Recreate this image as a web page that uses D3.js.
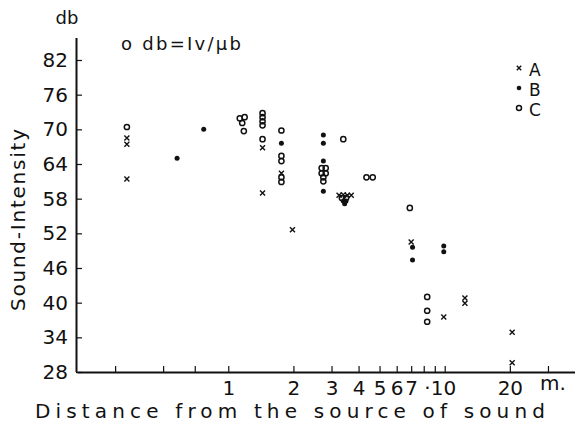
<!DOCTYPE html>
<html>
<head>
<meta charset="utf-8">
<script src="https://cdn.jsdelivr.net/npm/d3@7"></script>
<style>
  body { margin: 0; background: #fff; }
  svg text { font-family: 'DejaVu Sans', sans-serif; fill: #111; }
  .axis path, .axis line { stroke: #111; }
</style>
</head>
<body>
<div id="chart"></div>
<script>
// distance (m) , sound intensity (db)
var seriesA = [[0.34,68.5],[0.34,67.4],[0.34,61.4],[1.44,66.8],[1.44,59.0],[1.76,62.4],
  [1.98,52.6],[3.25,58.6],[3.4,58.7],[3.55,58.6],[3.7,58.6],[7.0,50.5],[9.9,37.5],
  [12.4,40.8],[12.4,39.9],[20.5,34.9],[20.5,29.6]]
var seriesB = [[0.58,65.0],[0.77,70.0],[1.76,67.6],[2.75,69.0],[2.75,67.6],[2.75,64.5],
  [2.75,59.3],[3.4,57.6],[3.5,57.6],[3.45,57.1],[7.1,49.6],[7.1,47.4],[9.9,49.8],[9.9,48.8]]
var seriesC = [[0.34,70.4],[1.13,71.9],[1.19,72.1],[1.16,71.1],[1.18,69.7],[1.44,72.8],
  [1.44,72.1],[1.44,71.4],[1.44,70.7],[1.44,68.3],[1.76,69.8],[1.76,65.4],[1.76,64.5],
  [1.76,61.7],[1.76,60.9],[2.7,63.3],[2.82,63.3],[2.7,62.4],[2.82,62.4],[2.75,61.7],
  [2.75,61.0],[3.4,68.3],[3.35,58.1],[3.5,58.1],[4.35,61.7],[4.65,61.7],[6.9,56.4],
  [8.3,41.0],[8.3,38.6],[8.3,36.7]]

var xTicks = [0.3,0.5,0.7,1,2,3,4,5,6,7,8,9,10,20,30]
var xLabels = {1:'1',2:'2',3:'3',4:'4',5:'5',6:'6',7:'7',10:'·10',20:'20'}
var yTicks = [28,34,40,46,52,58,64,70,76,82]
var legendKeys = ['A','B','C']

var W = 575, H = 433
var vis = d3.select('#chart').append('svg')
  .attr('width', W).attr('height', H)

var x = d3.scaleLog().domain([0.2, 40]).range([77, 575])
var y = d3.scaleLinear().domain([28, 82]).range([372, 60])

// axes
var xAxis = d3.axisBottom(x).tickValues(xTicks)
  .tickSizeInner(-6).tickSizeOuter(0).tickPadding(9)
  .tickFormat(function(d){ return xLabels[d] || '' })
vis.append('g').attr('class','axis')
  .attr('transform','translate(0,372)')
  .call(xAxis)
  .call(function(g){
    g.select('.domain').attr('stroke-width', 2)
    g.selectAll('.tick line').attr('stroke-width', 1.2)
    g.selectAll('.tick text').attr('font-size', 20)
      .attr('dx', function(d){ return d == 10 ? '-0.25em' : 0 })
  })

var yAxis = d3.axisLeft(y).tickValues(yTicks)
  .tickSizeInner(-6).tickSizeOuter(0).tickPadding(8)
vis.append('g').attr('class','axis')
  .attr('transform','translate(76,0)')
  .call(yAxis)
  .call(function(g){
    g.select('.domain').attr('d', 'M0.5,38V372').attr('stroke-width', 2)
    g.selectAll('.tick line').attr('stroke-width', 1.2)
    g.selectAll('.tick text').attr('font-size', 20)
  })

// titles
vis.append('text').attr('x', 553).attr('y', 390)
  .attr('text-anchor','middle').attr('font-size', 20).text('m.')
vis.append('text').attr('x', 35).attr('y', 418)
  .attr('font-size', 20).attr('textLength', 510).attr('lengthAdjust','spacing')
  .text('Distance from the source of sound')
vis.append('text')
  .attr('transform','translate(25,311) rotate(-90)')
  .attr('font-size', 20).attr('textLength', 182).attr('lengthAdjust','spacing')
  .text('Sound-Intensity')
vis.append('text').attr('x', 67).attr('y', 24)
  .attr('text-anchor','middle').attr('font-size', 18).text('db')
vis.append('text').attr('x', 121).attr('y', 50)
  .attr('font-size', 18).attr('textLength', 120).attr('lengthAdjust','spacing')
  .text('o db=Iv/μb')

// markers
function cross(sel, s){
  sel.append('path')
    .attr('d', 'M' + -s + ',' + -s + 'L' + s + ',' + s + 'M' + -s + ',' + s + 'L' + s + ',' + -s)
    .attr('stroke', '#111').attr('stroke-width', 1.4).attr('fill', 'none')
}

vis.append('g').selectAll('g').data(seriesA).enter().append('g')
  .attr('transform', function(d){ return 'translate(' + x(d[0]) + ',' + y(d[1]) + ')' })
  .call(cross, 2.5)

vis.append('g').selectAll('circle').data(seriesB).enter().append('circle')
  .attr('cx', function(d){ return x(d[0]) })
  .attr('cy', function(d){ return y(d[1]) })
  .attr('r', 2.5).attr('fill', '#111')

vis.append('g').selectAll('circle').data(seriesC).enter().append('circle')
  .attr('cx', function(d){ return x(d[0]) })
  .attr('cy', function(d){ return y(d[1]) })
  .attr('r', 2.6).attr('fill', 'none').attr('stroke', '#111').attr('stroke-width', 1.5)

// legend
var leg = vis.append('g').attr('transform','translate(519,0)')
legendKeys.forEach(function(k, i){
  var cy = 68 + i * 20
  var g = leg.append('g').attr('transform','translate(0,' + cy + ')')
  if(k == 'A') cross(g, 2.2)
  else if(k == 'B') g.append('circle').attr('r', 2.3).attr('fill', '#111')
  else g.append('circle').attr('r', 2.5).attr('fill', 'none')
    .attr('stroke', '#111').attr('stroke-width', 1.5)
  leg.append('text').attr('x', 10).attr('y', cy + 8)
    .attr('font-size', 17).text(k)
})
</script>
</body>
</html>
